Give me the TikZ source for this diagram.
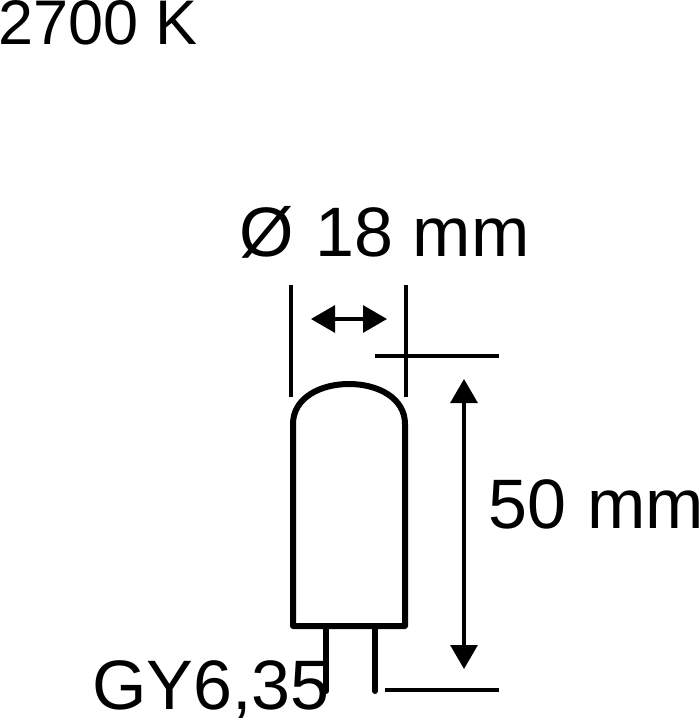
\documentclass[tikz,border=0pt]{standalone}
\usepackage{fontspec}
\setmainfont{Liberation Sans}
\usetikzlibrary{arrows.meta}
\tikzset{
 thin line/.style={line width=3.1pt},
 bulb/.style={line width=6pt,line join=round,line cap=round},
 dim/.style={line width=3.1pt,{Triangle[length=24pt,width=27pt]}-{Triangle[length=24pt,width=27pt]}},
 lab/.style={inner sep=0pt,anchor=base west,font=\fontsize{70}{70}\selectfont},
 labs/.style={inner sep=0pt,anchor=base west,font=\fontsize{63}{63}\selectfont}
}
\begin{document}
\begin{tikzpicture}[x=1pt,y=-1pt]
\useasboundingbox (0,0) rectangle (699,720);
\node[labs] (temp) at (-2,44.5) {2700 K};
\node[lab] (dia) at (239,256) {Ø\hspace{22pt}18 mm};
\node[lab] (len) at (488,528) {50\hspace{21pt}mm};
\node[lab] (base) at (92,709) {GY6,35};
\draw[bulb] (293,626) -- (293,424) .. controls (293,398) and (320,384) .. (349,384) .. controls (378,384) and (405,398) .. (405,424) -- (405,626) -- cycle;
\draw[bulb] (326,626) -- (326,691);
\draw[bulb] (375,626) -- (375,691);
\coordinate (dl1) at (291,285); \coordinate (dl2) at (291,397);
\coordinate (dr1) at (406,285); \coordinate (dr2) at (406,397);
\draw[thin line] (dl1) -- (dl2);
\draw[thin line] (dr1) -- (dr2);
\coordinate (tl1) at (375,356); \coordinate (tl2) at (499,356);
\coordinate (bl1) at (385,690); \coordinate (bl2) at (499,690);
\draw[thin line] (tl1) -- (tl2);
\draw[thin line] (bl1) -- (bl2);
\coordinate (a1) at (311,319); \coordinate (a2) at (387,319);
\coordinate (b1) at (464,379); \coordinate (b2) at (464,669);
\draw[dim] (a1) -- (a2);
\draw[dim] (b1) -- (b2);
\end{tikzpicture}
\end{document}
